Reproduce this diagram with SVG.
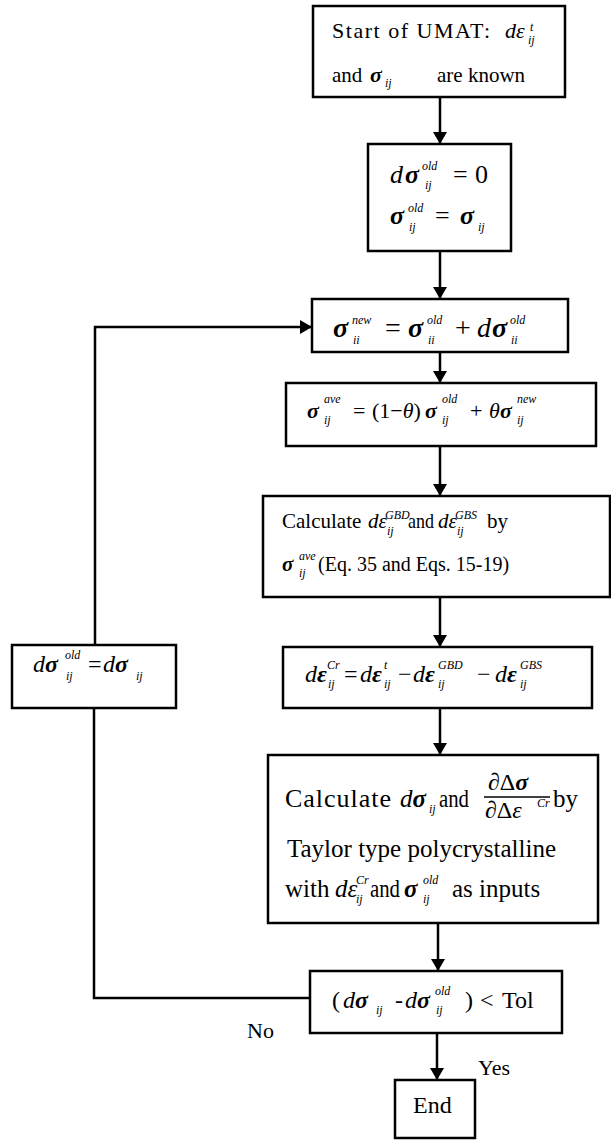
<svg xmlns="http://www.w3.org/2000/svg" width="611" height="1141" viewBox="0 0 611 1141">
<style>
text{font-family:"Liberation Serif","Times New Roman",serif;fill:#000}
.box{fill:#fff;stroke:#000;stroke-width:2.5}
.ln{fill:none;stroke:#000;stroke-width:2.5}
.i{font-style:italic}
.bi{font-style:italic;font-weight:bold}
.s{font-style:italic;font-size:12px}
</style>
<defs>
<marker id="ah" viewBox="0 0 12 14" refX="12" refY="7" markerWidth="12" markerHeight="14" markerUnits="userSpaceOnUse" orient="auto">
<path d="M0,0 L12,7 L0,14 Z" fill="#000"/>
</marker>
</defs>
<g id="connectors">
<line class="ln" x1="440" y1="97" x2="440" y2="144" marker-end="url(#ah)"/>
<line class="ln" x1="440" y1="251" x2="440" y2="299" marker-end="url(#ah)"/>
<line class="ln" x1="440" y1="352" x2="440" y2="383" marker-end="url(#ah)"/>
<line class="ln" x1="440" y1="446" x2="440" y2="496" marker-end="url(#ah)"/>
<line class="ln" x1="440" y1="597" x2="440" y2="647" marker-end="url(#ah)"/>
<line class="ln" x1="440" y1="708" x2="440" y2="755" marker-end="url(#ah)"/>
<line class="ln" x1="438" y1="923" x2="438" y2="971" marker-end="url(#ah)"/>
<line class="ln" x1="437" y1="1033" x2="437" y2="1080" marker-end="url(#ah)"/>
<polyline class="ln" points="310,998 94,998 94,708"/>
<polyline class="ln" points="95,645 95,327 312,327" marker-end="url(#ah)"/>
<text x="247" y="1038" font-size="22">No</text>
<text x="478" y="1075" font-size="22">Yes</text>
</g>
<g id="start">
<rect class="box" x="313" y="6" width="252" height="91"/>
<text x="332" y="38" font-size="22" textLength="158" lengthAdjust="spacing">Start of UMAT:</text>
<text x="505" y="38" font-size="22" class="i">dε</text>
<text x="530" y="31" class="s" font-size="11">t</text>
<text x="528" y="44" class="s" font-size="11">ij</text>
<text x="332" y="82" font-size="21">and</text>
<text x="370" y="82" font-size="22" class="bi">σ</text>
<text x="385" y="87" class="s" font-size="11">ij</text>
<text x="437" y="82" font-size="21">are known</text>
</g>
<g id="init">
<rect class="box" x="368" y="144" width="143" height="107"/>
<text x="390" y="183" font-size="26" class="i">d</text>
<text x="405" y="183" font-size="26" class="bi">σ</text>
<text x="422" y="170" class="s" font-size="14">old</text>
<text x="425" y="189" class="s" font-size="13">ij</text>
<text x="453" y="183" font-size="26">=</text>
<text x="475" y="183" font-size="26">0</text>
<text x="390" y="224" font-size="26" class="bi">σ</text>
<text x="408" y="212" class="s" font-size="14">old</text>
<text x="409" y="231" class="s" font-size="13">ij</text>
<text x="435" y="224" font-size="26">=</text>
<text x="460" y="224" font-size="26" class="bi">σ</text>
<text x="478" y="231" class="s" font-size="13">ij</text>
</g>
<g id="update">
<rect class="box" x="312" y="299" width="256" height="53"/>
<text x="333" y="337" font-size="28" class="bi">σ</text>
<text x="352" y="324" class="s" font-size="14">new</text>
<text x="353" y="344" class="s" font-size="13">ii</text>
<text x="385" y="337" font-size="28">=</text>
<text x="408" y="337" font-size="28" class="bi">σ</text>
<text x="427" y="324" class="s" font-size="14">old</text>
<text x="428" y="344" class="s" font-size="13">ii</text>
<text x="455" y="337" font-size="28">+</text>
<text x="477" y="337" font-size="28" class="i">d</text>
<text x="492" y="337" font-size="28" class="bi">σ</text>
<text x="510" y="324" class="s" font-size="14">old</text>
<text x="511" y="344" class="s" font-size="13">ii</text>
</g>
<g id="average">
<rect class="box" x="286" y="383" width="310" height="63"/>
<text x="307" y="418" font-size="22" class="bi">σ</text>
<text x="324" y="403" class="s">ave</text>
<text x="324" y="424" class="s" font-size="11">ij</text>
<text x="353" y="418" font-size="22">=</text>
<text x="372" y="418" font-size="22">(1−<tspan class="i">θ</tspan>)</text>
<text x="425" y="418" font-size="22" class="bi">σ</text>
<text x="442" y="403" class="s">old</text>
<text x="442" y="424" class="s" font-size="11">ij</text>
<text x="470" y="418" font-size="22">+</text>
<text x="489" y="418" font-size="22" class="i">θ</text>
<text x="500" y="418" font-size="22" class="bi">σ</text>
<text x="517" y="403" class="s">new</text>
<text x="517" y="424" class="s" font-size="11">ij</text>
</g>
<g id="calc1">
<rect class="box" x="263" y="496" width="347" height="101"/>
<text x="282" y="528" font-size="21">Calculate</text>
<text x="368" y="528" font-size="21" class="i">dε</text>
<text x="385" y="519" class="s" font-size="10">GBD</text>
<text x="387" y="535" class="s" font-size="10">ij</text>
<text x="408" y="528" font-size="21" textLength="26" lengthAdjust="spacingAndGlyphs">and</text>
<text x="438" y="528" font-size="21" class="i">dε</text>
<text x="455" y="519" class="s" font-size="10">GBS</text>
<text x="457" y="535" class="s" font-size="10">ij</text>
<text x="487" y="528" font-size="21">by</text>
<text x="282" y="571" font-size="21" class="bi">σ</text>
<text x="299" y="560" class="s">ave</text>
<text x="299" y="577" class="s" font-size="11">ij</text>
<text x="318" y="571" font-size="20">(Eq. 35 and Eqs. 15-19)</text>
</g>
<g id="creep">
<rect class="box" x="283" y="647" width="309" height="61"/>
<text x="305" y="682" font-size="24"><tspan class="i">d</tspan><tspan class="bi">ε</tspan></text>
<text x="327" y="669" class="s">Cr</text>
<text x="328" y="688" class="s" font-size="11">ij</text>
<text x="344" y="682" font-size="24">=</text>
<text x="360" y="682" font-size="24"><tspan class="i">d</tspan><tspan class="bi">ε</tspan></text>
<text x="384" y="669" class="s">t</text>
<text x="384" y="688" class="s" font-size="11">ij</text>
<text x="398" y="682" font-size="24">−</text>
<text x="413" y="682" font-size="24"><tspan class="i">d</tspan><tspan class="bi">ε</tspan></text>
<text x="438" y="669" class="s">GBD</text>
<text x="438" y="688" class="s" font-size="11">ij</text>
<text x="477" y="682" font-size="24">−</text>
<text x="495" y="682" font-size="24"><tspan class="i">d</tspan><tspan class="bi">ε</tspan></text>
<text x="520" y="669" class="s">GBS</text>
<text x="520" y="688" class="s" font-size="11">ij</text>
</g>
<g id="calc2">
<rect class="box" x="268" y="755" width="330" height="168"/>
<text x="285" y="807" font-size="26" textLength="106" lengthAdjust="spacing">Calculate</text>
<text x="400" y="807" font-size="25"><tspan class="i">d</tspan><tspan class="bi">σ</tspan></text>
<text x="429" y="813" class="s" font-size="11">ij</text>
<text x="439" y="807" font-size="25" textLength="30" lengthAdjust="spacingAndGlyphs">and</text>
<text x="488" y="790" font-size="24"><tspan class="i">∂</tspan>Δ<tspan class="bi">σ</tspan></text>
<line x1="484" y1="797" x2="550" y2="797" stroke="#000" stroke-width="1.5"/>
<text x="485" y="818" font-size="24"><tspan class="i">∂</tspan>Δ<tspan class="i">ε</tspan></text>
<text x="537" y="807" class="s">Cr</text>
<text x="553" y="807" font-size="25">by</text>
<text x="287" y="857" font-size="25">Taylor type polycrystalline</text>
<text x="285" y="897" font-size="25">with</text>
<text x="335" y="897" font-size="25" class="i">dε</text>
<text x="356" y="884" class="s" font-size="11">Cr</text>
<text x="356" y="903" class="s" font-size="11">ij</text>
<text x="370" y="897" font-size="25" textLength="30" lengthAdjust="spacingAndGlyphs">and</text>
<text x="404" y="897" font-size="25" class="bi">σ</text>
<text x="423" y="884" class="s">old</text>
<text x="423" y="903" class="s" font-size="11">ij</text>
<text x="452" y="897" font-size="25">as inputs</text>
</g>
<g id="check">
<rect class="box" x="310" y="971" width="252" height="62"/>
<text x="332" y="1008" font-size="24">(</text>
<text x="343" y="1008" font-size="24"><tspan class="i">d</tspan><tspan class="bi">σ</tspan></text>
<text x="376" y="1014" class="s" font-size="11">ij</text>
<text x="395" y="1008" font-size="24">-</text>
<text x="405" y="1008" font-size="24"><tspan class="i">d</tspan><tspan class="bi">σ</tspan></text>
<text x="435" y="995" class="s" font-size="13">old</text>
<text x="436" y="1014" class="s" font-size="11">ij</text>
<text x="465" y="1008" font-size="24">)</text>
<text x="480" y="1008" font-size="24">&lt;</text>
<text x="502" y="1008" font-size="24">Tol</text>
</g>
<g id="end">
<rect class="box" x="395" y="1080" width="80" height="58"/>
<text x="413" y="1113" font-size="24">End</text>
</g>
<g id="reset">
<rect class="box" x="12" y="645" width="164" height="63"/>
<text x="33" y="672" font-size="24"><tspan class="i">d</tspan><tspan class="bi">σ</tspan></text>
<text x="65" y="659" class="s" font-size="13">old</text>
<text x="66" y="680" class="s" font-size="11">ij</text>
<text x="88" y="672" font-size="24">=</text>
<text x="103" y="672" font-size="24"><tspan class="i">d</tspan><tspan class="bi">σ</tspan></text>
<text x="136" y="680" class="s" font-size="11">ij</text>
</g>
</svg>
